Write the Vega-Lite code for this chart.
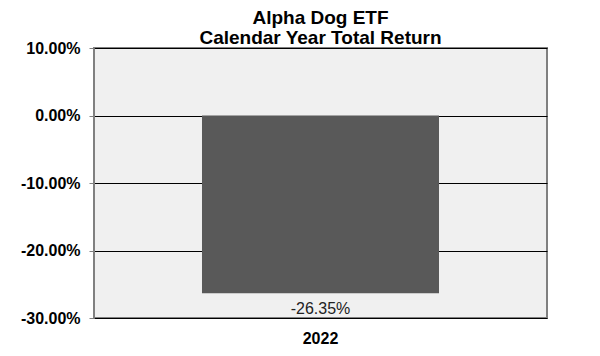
{
  "$schema": "https://vega.github.io/schema/vega-lite/v6.json",
  "width": 453,
  "height": 270,
  "autosize": "none",
  "padding": {"left": 94, "top": 48, "right": 53, "bottom": 38},
  "background": "#ffffff",
  "title": {
    "text": ["Alpha Dog ETF", "Calendar Year Total Return"],
    "font": "Liberation Sans",
    "fontSize": 19,
    "fontWeight": "bold",
    "color": "#000000",
    "lineHeight": 20,
    "anchor": "middle",
    "offset": -8
  },
  "config": {
    "view": {"fill": "#f0f0f0", "stroke": "#808080", "strokeWidth": 2},
    "font": "Liberation Sans"
  },
  "data": {"values": [{"year": "2022", "value": -26.35, "label": "-26.35%"}]},
  "encoding": {
    "x": {
      "field": "year",
      "type": "nominal",
      "scale": {"paddingInner": 0.313, "paddingOuter": 0.313},
      "axis": {
        "title": null,
        "labelAngle": 0,
        "labelFont": "Liberation Sans",
        "labelFontSize": 16,
        "labelFontWeight": "bold",
        "labelColor": "#000000",
        "ticks": false,
        "domain": false,
        "labelPadding": 12
      }
    }
  },
  "layer": [
    {
      "mark": {"type": "bar", "color": "#595959"},
      "encoding": {
        "y": {
          "field": "value",
          "type": "quantitative",
          "scale": {"domain": [-30, 10], "nice": false, "zero": false},
          "axis": {
            "title": null,
            "values": [10, 0, -10, -20, -30],
            "labelExpr": "(datum.value < 0 ? '-' : '') + format(abs(datum.value), '.2f') + '%'",
            "labelFont": "Liberation Sans",
            "labelFontSize": 16,
            "labelFontWeight": "bold",
            "labelColor": "#000000",
            "labelPadding": 9,
            "tickSize": 5,
            "tickColor": "#808080",
            "domainColor": "#808080",
            "grid": true,
            "gridColor": "#000000",
            "gridWidth": 1,
            "gridOpacity": 1
          }
        },
        "y2": {"datum": 0}
      }
    },
    {
      "mark": {"type": "text", "baseline": "top", "dy": 8, "font": "Liberation Sans", "fontSize": 16, "color": "#222222"},
      "encoding": {
        "y": {"field": "value", "type": "quantitative"},
        "text": {"field": "label"}
      }
    }
  ]
}
